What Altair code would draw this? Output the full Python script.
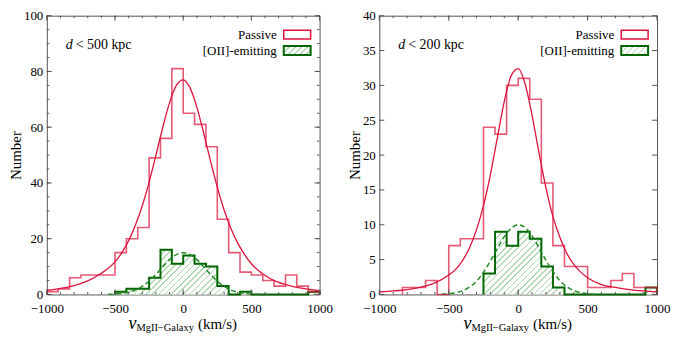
import altair as alt
import pandas as pd
import numpy as np

# ---------------- data ----------------
n_bins = 24
bin_edges = [float(e) for e in np.linspace(-1000, 1000, n_bins + 1)]

left_passive = [1, 2, 6, 7, 7, 7, 15, 20, 24, 49, 56, 81, 65, 61, 53, 27, 15, 8, 7, 5, 3, 7, 3, 1]
left_oii = [0, 0, 0, 0, 0, 0, 1, 2, 2, 6, 16, 11, 14, 11, 10, 3, 0, 1, 0, 0, 0, 0, 0, 1]
right_passive = [0, 0, 1, 1, 2, 0, 7, 8, 8, 24, 23, 30, 31, 28, 16, 7, 4, 4, 1, 1, 2, 3, 1, 1]
right_oii = [0, 0, 0, 0, 0, 0, 0, 0, 0, 3, 9, 7, 9, 8, 4, 1, 0, 0, 0, 0, 0, 0, 0, 1]

fit_v = [-1000, -900, -800, -700, -600, -500, -450, -400, -350, -300, -250, -200, -150, -100, -50,
         0, 50, 100, 150, 200, 250, 300, 350, 400, 450, 500, 600, 700, 800, 900, 1000]
left_passive_fit = [1.5, 2.2, 3.2, 4.9, 7.6, 11.7, 15.0, 19.3, 24.9, 31.8, 40.3, 49.9, 59.9, 68.8, 75.0,
                    77.0, 74.1, 67.2, 57.9, 47.9, 38.5, 30.3, 23.7, 18.4, 14.3, 11.0, 6.8, 4.3, 2.9, 2.0, 1.4]
right_passive_fit = [0.35, 0.5, 0.7, 1.05, 1.65, 2.8, 3.6, 4.9, 6.7, 9.3, 12.75, 17.2, 22.5, 27.7, 31.4,
                     32.4, 30.2, 25.7, 20.3, 15.3, 11.2, 8.2, 5.9, 4.3, 3.2, 2.4, 1.4, 1.0, 0.7, 0.5, 0.35]

gauss_v = [-550, -500, -450, -400, -350, -300, -250, -200, -150, -100, -50, 0,
           50, 100, 150, 200, 250, 300, 350, 400, 450, 500, 550]
left_oii_fit = [0.06, 0.15, 0.36, 0.79, 1.58, 2.87, 4.76, 7.2, 9.9, 12.5, 14.3, 15.0,
                14.3, 12.5, 9.9, 7.2, 4.76, 2.87, 1.58, 0.79, 0.36, 0.15, 0.06]
right_oii_fit = [0.04, 0.1, 0.24, 0.53, 1.05, 1.9, 3.2, 4.8, 6.6, 8.3, 9.5, 10.0,
                 9.6, 8.4, 6.7, 4.9, 3.3, 2.0, 1.1, 0.55, 0.26, 0.11, 0.04]

x_labels = [-1000, -500, 0, 500, 1000]
x_minor_ticks = [-1000, -900, -800, -700, -600, -500, -400, -300, -200, -100, 0,
                 100, 200, 300, 400, 500, 600, 700, 800, 900, 1000]
left_y_labels = [0, 20, 40, 60, 80, 100]
left_y_minor = [0, 5, 10, 15, 20, 25, 30, 35, 40, 45, 50, 55, 60, 65, 70, 75, 80, 85, 90, 95, 100]
right_y_labels = [0, 5, 10, 15, 20, 25, 30, 35, 40]
right_y_minor = []

# ---------------- style ----------------
FONT = "Liberation Serif"
FRAME = "#555555"
RED = "#dc143c"
DKGREEN = "#006400"
DASHGREEN = "#228b22"
HATCH = "#b2dcb2"


def hatch(w_px, h_px, spacing=4.4, frac=0.26):
    s = (w_px + h_px) / (w_px ** 2 + h_px ** 2)
    n = max(1, int(round((w_px + h_px) / (np.sqrt(2) * spacing))))
    stops = []
    for i in range(n):
        t0 = round(i / n, 5)
        t1 = round((i + frac) / n, 5)
        t2 = round((i + 1) / n, 5)
        stops += [{"offset": t0, "color": HATCH},
                  {"offset": t1, "color": HATCH},
                  {"offset": t1, "color": "#ffffff"},
                  {"offset": t2, "color": "#ffffff"}]
    return {"gradient": "linear", "stops": stops, "x1": 0, "y1": 0,
            "x2": round(s * w_px, 5), "y2": round(s * h_px, 5)}


def first_nonzero(counts):
    return next(i for i, c in enumerate(counts) if c > 0)


def outline_df(counts):
    f = first_nonzero(counts)
    v = [bin_edges[f]] + bin_edges[f:]
    c = [0] + counts[f:] + [0]
    return pd.DataFrame({"v": v, "c": c, "i": list(range(len(v)))})


def area_df(counts):
    f = first_nonzero(counts)
    v = bin_edges[f:]
    c = counts[f:] + [counts[-1]]
    return pd.DataFrame({"v": v, "c": c})


one = pd.DataFrame({"a": [0]})


def panel(passive, oii, p_fit, o_fit, ymax, y_labels, y_minor, width, height, dist_text):
    xs = alt.Scale(domain=[-1000, 1000], nice=False, zero=False)
    ys = alt.Scale(domain=[0, ymax], nice=False, zero=False)
    xaxis = alt.Axis(values=x_labels, labelFlush=False, ticks=False, domain=False,
                     grid=False, title=None, labelFont=FONT, labelFontSize=13, labelPadding=8,
                     labelColor="black", format="d")
    yaxis = alt.Axis(values=y_labels, ticks=False, domain=False, grid=False,
                     title="Number", titleFont=FONT, titleFontSize=15, titleFontWeight="normal",
                     titleColor="black", titlePadding=0, labelFont=FONT, labelFontSize=13,
                     labelPadding=4, labelColor="black", format="d")

    def X(field):
        return alt.X(field, scale=xs, axis=xaxis)

    def Y(field, **kw):
        return alt.Y(field, scale=ys, axis=yaxis, **kw)

    f = first_nonzero(oii)
    w_h = (1000 - bin_edges[f]) / 2000 * width
    h_h = max(oii) / ymax * height

    hatch_area = alt.Chart(area_df(oii)).mark_area(
        interpolate="step-after", fill=hatch(w_h, h_h), strokeWidth=0
    ).encode(x=X("v:Q"), y=Y("c:Q", stack=None))
    oii_line = alt.Chart(outline_df(oii)).mark_line(
        interpolate="step-after", color=DKGREEN, strokeWidth=2
    ).encode(x=X("v:Q"), y=Y("c:Q"), order=alt.Order("i:Q"))
    oii_fit = alt.Chart(pd.DataFrame({"v": gauss_v, "c": o_fit})).mark_line(
        interpolate="monotone", color=DASHGREEN, strokeWidth=1.5, strokeDash=[5, 3]
    ).encode(x=X("v:Q"), y=Y("c:Q"))
    pas_line = alt.Chart(outline_df(passive)).mark_line(
        interpolate="step-after", color=RED, strokeWidth=1.6, opacity=0.7
    ).encode(x=X("v:Q"), y=Y("c:Q"), order=alt.Order("i:Q"))
    pas_fit = alt.Chart(pd.DataFrame({"v": fit_v, "c": p_fit})).mark_line(
        interpolate="monotone", color=RED, strokeWidth=1.3
    ).encode(x=X("v:Q"), y=Y("c:Q"))

    # inward ticks on all four sides
    def xticks(vals, ln):
        d = pd.DataFrame({"v": vals})
        bot = alt.Chart(d).mark_rule(color=FRAME, strokeWidth=1).encode(
            x=X("v:Q"), y=alt.value(height), y2=alt.value(height - ln))
        top = alt.Chart(d).mark_rule(color=FRAME, strokeWidth=1).encode(
            x=X("v:Q"), y=alt.value(0), y2=alt.value(ln))
        return [bot, top]

    def yticks(vals, ln):
        d = pd.DataFrame({"c": vals})
        lft = alt.Chart(d).mark_rule(color=FRAME, strokeWidth=1).encode(
            y=Y("c:Q"), x=alt.value(0), x2=alt.value(ln))
        rgt = alt.Chart(d).mark_rule(color=FRAME, strokeWidth=1).encode(
            y=Y("c:Q"), x=alt.value(width), x2=alt.value(width - ln))
        return [lft, rgt]

    tick_layers = xticks(x_minor_ticks, 2.5) + xticks(x_labels, 5) + yticks(y_labels, 5)
    if y_minor:
        tick_layers += yticks(y_minor, 2.5)

    # annotation text
    def txt(s, x, y, size, align="left", style="normal"):
        return alt.Chart(one).mark_text(
            text=s, font=FONT, fontSize=size, fontStyle=style, align=align,
            baseline="middle", color="black"
        ).encode(x=alt.value(x), y=alt.value(y))

    d_lab = [txt("d", 19, 29, 14, style="italic"), txt("<  " + dist_text + " kpc", 29, 29, 14)]
    legend = [
        txt("Passive", width - 43, 19.5, 13, align="right"),
        txt("[OII]-emitting", width - 43, 35, 13, align="right"),
        alt.Chart(one).mark_rect(fill="white", stroke=RED, strokeWidth=1.5).encode(
            x=alt.value(width - 36), x2=alt.value(width - 9), y=alt.value(14.5), y2=alt.value(23.5)),
        alt.Chart(one).mark_rect(fill=hatch(27, 9), stroke=DKGREEN, strokeWidth=2).encode(
            x=alt.value(width - 36), x2=alt.value(width - 9), y=alt.value(30.5), y2=alt.value(39.5)),
    ]
    cx = width / 2
    xtitle = [
        txt("v", cx - 55, height + 30, 18, style="italic"),
        txt("MgII\u2212Galaxy", cx - 47, height + 34, 10.5),
        txt("(km/s)", cx + 54, height + 30, 15, align="right"),
    ]

    return alt.layer(
        hatch_area, oii_line, oii_fit, pas_line, pas_fit, *tick_layers, *d_lab, *legend, *xtitle
    ).properties(width=width, height=height)


left = panel(left_passive, left_oii, left_passive_fit, left_oii_fit, 100,
             left_y_labels, left_y_minor, 274, 280, "500")
right = panel(right_passive, right_oii, right_passive_fit, right_oii_fit, 40,
              right_y_labels, right_y_minor, 279, 280, "200")

chart = alt.hconcat(left, right, spacing=60, bounds="flush").configure_view(
    stroke=FRAME, strokeWidth=1
).properties(
    padding={"left": 0, "top": 0, "right": 0, "bottom": 0}
)

chart.save("out.html", embed_options={"renderer": "svg", "actions": False})
